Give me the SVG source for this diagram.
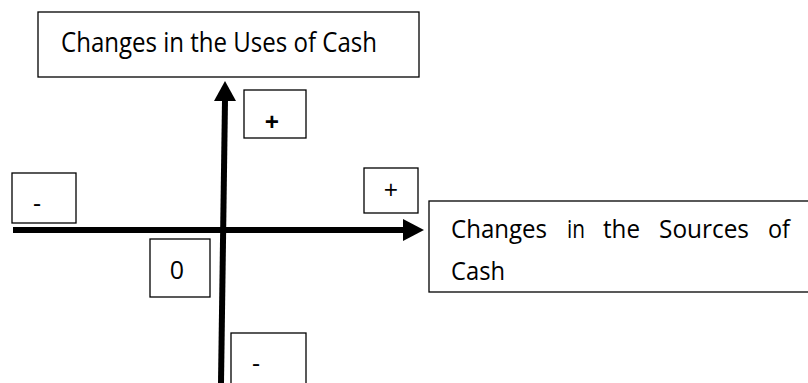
<svg xmlns="http://www.w3.org/2000/svg" width="808" height="383" viewBox="0 0 808 383">
<style>
.box{fill:#fff;stroke:#000;stroke-width:1.3}
.t{font-family:"Open Sans","Liberation Sans",sans-serif;font-size:25px;fill:#000}
.big{font-size:27px}
.axis{stroke:#000;stroke-width:6;fill:none}
</style>
<rect width="808" height="383" fill="#fff"/>
<g id="connectors">
<line class="axis" x1="13" y1="230" x2="405" y2="230"/>
<path d="M403,219 L424,230 L403,241 Z" fill="#000"/>
<line class="axis" x1="221" y1="383" x2="225" y2="100"/>
<path d="M214,101 L225,81 L236,101 Z" fill="#000"/>
</g>
<g id="uses">
<rect class="box" x="38" y="12" width="381" height="65"/>
<text class="t big" x="61" y="52" textLength="316" lengthAdjust="spacingAndGlyphs">Changes in the Uses of Cash</text>
</g>
<g id="plus-top">
<rect class="box" x="244" y="90" width="62" height="48"/>
<text class="t" x="272" y="131" text-anchor="middle" font-weight="bold">+</text>
</g>
<g id="minus-left">
<rect class="box" x="12" y="173" width="64" height="50"/>
<text class="t" x="37" y="212" text-anchor="middle">-</text>
</g>
<g id="plus-right">
<rect class="box" x="364" y="168" width="54" height="45"/>
<text class="t" x="391" y="199" text-anchor="middle">+</text>
</g>
<g id="zero">
<rect class="box" x="150" y="239" width="60" height="58"/>
<text class="t" x="177" y="279" text-anchor="middle">0</text>
</g>
<g id="sources">
<rect class="box" x="429" y="201" width="390" height="91"/>
<text class="t" y="238"><tspan x="451" textLength="96" lengthAdjust="spacingAndGlyphs">Changes</tspan><tspan x="567" textLength="18" lengthAdjust="spacingAndGlyphs">in</tspan><tspan x="603" textLength="37" lengthAdjust="spacingAndGlyphs">the</tspan><tspan x="659" textLength="90" lengthAdjust="spacingAndGlyphs">Sources</tspan><tspan x="768" textLength="22" lengthAdjust="spacingAndGlyphs">of</tspan></text>
<text class="t" x="451" y="280" textLength="54" lengthAdjust="spacingAndGlyphs">Cash</text>
</g>
<g id="minus-bottom">
<rect class="box" x="231" y="333" width="75" height="60"/>
<text class="t" x="256" y="372" text-anchor="middle">-</text>
</g>
</svg>
